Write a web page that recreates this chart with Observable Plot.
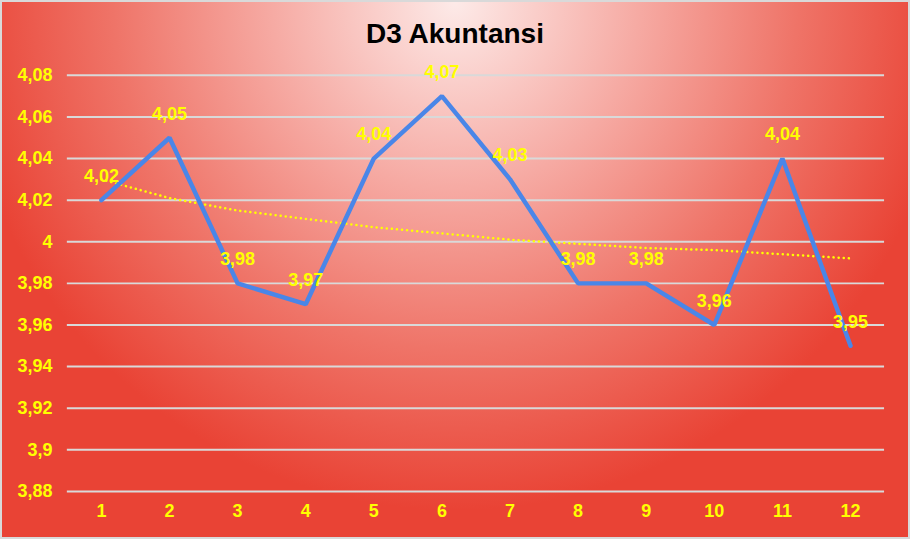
<!DOCTYPE html>
<html>
<head>
<meta charset="utf-8">
<script src="https://cdn.jsdelivr.net/npm/d3@7"></script>
<script src="https://cdn.jsdelivr.net/npm/@observablehq/plot@0.6"></script>
<style>
  body { margin: 0; }
  #wrap {
    position: relative;
    width: 910px;
    height: 539px;
    box-sizing: border-box;
    border: 2px solid #d9d9d9;
    background: radial-gradient(ellipse 58% 100% at 50% 0%, #fdeae8 0%, #f6aaa3 35%, #ef7468 65%, #e94335 95%);
    font-family: "Liberation Sans", Arial, sans-serif;
    overflow: hidden;
  }
  #title {
    position: absolute;
    top: 16px;
    left: 0;
    width: 906px;
    text-align: center;
    font-size: 28px;
    font-weight: bold;
    color: #000;
  }
  #chart { position: absolute; left: -2px; top: -2px; }
</style>
</head>
<body>
<div id="wrap">
  <div id="title">D3 Akuntansi</div>
  <div id="chart"></div>
</div>
<script>
const months = [1, 2, 3, 4, 5, 6, 7, 8, 9, 10, 11, 12]
const values = [4.02, 4.05, 3.98, 3.97, 4.04, 4.07, 4.03, 3.98, 3.98, 3.96, 4.04, 3.95]
// trendline
const trend = [4.030, 4.021, 4.015, 4.011, 4.007, 4.004, 4.001, 3.999, 3.997, 3.996, 3.994, 3.992]
const yTicks = [3.88, 3.90, 3.92, 3.94, 3.96, 3.98, 4.00, 4.02, 4.04, 4.06, 4.08]

const data = months.map((m, i) => ({month: m, value: values[i], trend: trend[i]}))
const fmt = d => String(+d.toFixed(2)).replace(".", ",")
const yellow = "#ffff00"

let chart = Plot.plot({
  width: 910,
  height: 539,
  marginLeft: 67,
  marginRight: 24,
  marginTop: 75,
  marginBottom: 47,
  style: {
    background: "transparent",
    fontFamily: "'Liberation Sans', Arial, sans-serif",
    overflow: "visible"
  },
  x: {domain: [0.5, 12.5]},
  y: {domain: [3.88, 4.08]},
  marks: [
    Plot.gridY(yTicks, {stroke: "#d9d9d9", strokeOpacity: 1, strokeWidth: 2}),
    Plot.line(data, {x: "month", y: "trend", stroke: yellow, strokeWidth: 2.5,
      strokeDasharray: "0.1 5", strokeLinecap: "round"}),
    Plot.line(data, {x: "month", y: "value", stroke: "#4a86e8", strokeWidth: 4.5,
      strokeLinecap: "round", strokeLinejoin: "miter"}),
    Plot.text(data, {x: "month", y: "value", text: d => fmt(d.value), dy: -24,
      fill: yellow, fontSize: 18, fontWeight: "bold"}),
    Plot.axisY({ticks: yTicks, tickFormat: fmt, tickSize: 0, tickPadding: 15,
      label: null, fill: yellow, fontSize: 18, fontWeight: "bold"}),
    Plot.axisX({ticks: months, tickFormat: d => d, tickSize: 0, tickPadding: 13,
      label: null, fill: yellow, fontSize: 18, fontWeight: "bold"})
  ]
})

d3.select('#chart').append(() => chart)
</script>
</body>
</html>
